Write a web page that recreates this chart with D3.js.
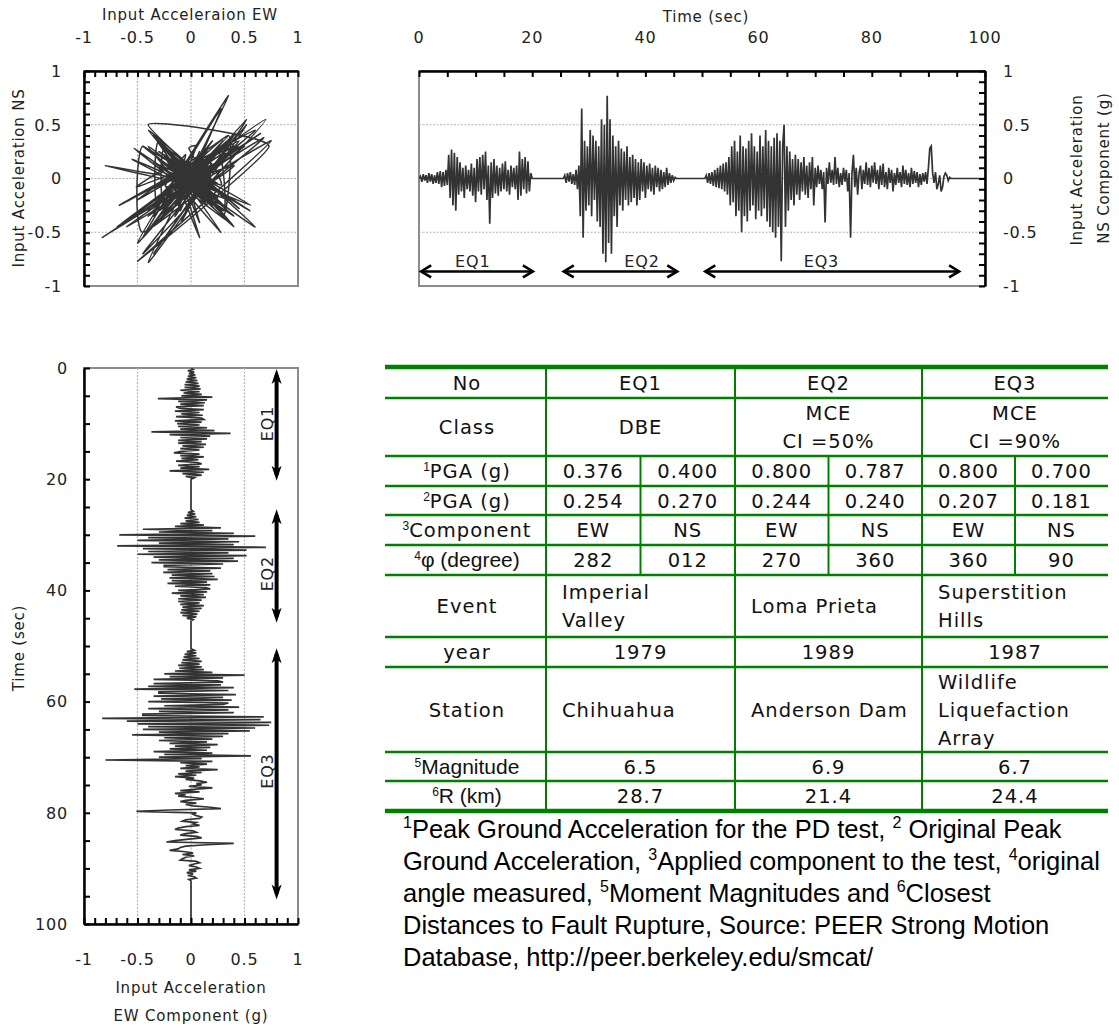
<!DOCTYPE html>
<html><head><meta charset="utf-8">
<script src="https://cdn.jsdelivr.net/npm/d3@7"></script>
<style>body{margin:0;background:#fff}svg{display:block}</style>
</head><body><svg id="c" width="1119" height="1029"></svg>
<script>
// ---------------- DATA ----------------
const STEP = 0.25;            // seconds between samples
const eqStarts = [0, 25.5, 50.5];
const eqNames = ["EQ1", "EQ2", "EQ3"];
const eqSpans = [[0.2, 20.3], [25.4, 45.8], [50.4, 95.6]];
const eqLabelTimeTop = [9.5, 39.4, 71.1];
const eqLabelTimeSide = [10, 37, 72.5];

const eq1NS = [0.00,0.02,-0.03,0.04,-0.02,0.03,-0.04,0.05,-0.03,0.04,-0.05,0.03,-0.04,
 0.06,-0.05,0.07,-0.08,0.06,-0.07,0.08,-0.06,
 0.22,-0.18,0.27,-0.25,0.24,-0.30,0.20,-0.15,
 0.15,-0.12,0.10,-0.18,0.12,-0.10,0.08,-0.12,
 0.14,-0.16,0.10,-0.22,0.18,-0.12,0.20,-0.15,
 0.22,-0.10,0.25,-0.20,0.12,-0.42,0.15,-0.18,
 0.18,-0.14,0.12,-0.16,0.10,-0.12,0.14,-0.10,
 0.16,-0.12,0.08,-0.15,0.12,-0.08,0.10,-0.10,
 0.12,-0.20,0.25,-0.16,0.18,-0.10,0.20,-0.14,
 0.16,-0.12,0.05,0.00];
const eq1EW = [0.00,0.02,-0.03,0.03,-0.02,0.04,-0.03,0.05,-0.04,0.06,-0.05,0.07,-0.06,
 0.08,-0.06,0.09,-0.10,0.08,-0.07,0.10,-0.09,
 0.20,-0.31,0.15,-0.12,0.13,-0.10,0.12,-0.14,
 -0.10,0.12,-0.15,0.08,-0.09,0.11,-0.14,0.10,
 0.12,-0.15,0.10,-0.13,0.08,-0.12,0.15,-0.10,
 0.22,-0.37,0.37,-0.20,0.18,-0.10,0.15,-0.12,
 0.10,-0.12,0.14,-0.08,0.12,-0.10,0.08,-0.09,
 -0.16,0.08,-0.10,0.12,-0.09,0.07,-0.14,0.06,
 0.10,-0.12,0.08,-0.10,0.17,-0.20,0.12,-0.08,
 0.10,-0.05,0.03,0.00];
const eq2NS = [0.00,0.03,-0.04,0.05,-0.03,0.06,-0.05,0.04,-0.06,
 0.08,-0.10,0.12,-0.35,0.65,-0.55,0.35,-0.30,
 0.30,-0.25,0.45,-0.35,0.40,-0.20,0.35,-0.40,
 0.30,-0.45,0.55,-0.70,0.50,-0.78,0.77,-0.60,
 0.55,-0.70,0.40,-0.35,0.30,-0.45,0.35,-0.25,
 0.28,-0.30,0.25,-0.20,0.30,-0.25,0.20,-0.22,
 0.22,-0.18,0.18,-0.25,0.15,-0.20,0.18,-0.12,
 0.15,-0.18,0.12,-0.10,0.14,-0.12,0.10,-0.15,
 0.12,-0.08,0.10,-0.12,0.08,-0.10,0.06,-0.08,
 0.10,-0.06,0.05,-0.04,0.03,-0.02,0.01,0.00];
const eq2EW = [0.00,0.02,-0.03,0.04,-0.04,0.05,-0.06,0.07,-0.05,
 0.08,-0.10,0.12,-0.15,0.28,-0.45,0.20,-0.30,
 0.40,-0.67,0.60,-0.40,0.35,-0.50,0.45,-0.30,
 0.40,-0.69,0.70,-0.45,0.52,-0.40,0.35,-0.50,
 0.52,-0.35,0.40,-0.30,0.44,-0.37,0.30,-0.25,
 -0.25,0.28,-0.22,0.18,-0.26,0.20,-0.18,0.22,
 -0.20,0.25,-0.18,0.15,-0.22,0.18,-0.15,0.14,
 0.18,-0.12,0.15,-0.18,0.12,-0.10,0.14,-0.12,
 0.10,-0.12,0.08,-0.10,0.12,-0.08,0.10,-0.09,
 0.08,-0.10,0.06,-0.08,0.05,-0.04,0.02,0.00];
const eq3NS = [0.00,0.03,-0.04,0.05,-0.05,0.06,-0.07,0.08,
 -0.08,0.10,-0.09,0.12,-0.10,0.14,-0.12,0.15,
 -0.15,0.20,-0.25,0.30,-0.22,0.35,-0.35,0.25,
 -0.30,0.40,-0.50,0.30,-0.35,0.28,-0.40,0.35,
 -0.30,0.42,-0.25,0.30,-0.38,0.25,-0.30,0.40,
 -0.35,0.30,-0.28,0.45,-0.40,0.35,-0.45,0.30,
 -0.50,0.38,-0.55,0.42,-0.45,0.35,-0.77,0.30,
 0.50,-0.45,0.30,-0.30,0.25,-0.20,0.18,-0.25,
 0.22,-0.15,0.18,-0.20,0.15,-0.12,0.20,-0.15,
 0.12,-0.18,0.15,-0.10,0.20,-0.25,0.10,-0.08,
 0.12,-0.05,0.08,-0.10,0.06,-0.41,0.10,-0.05,
 0.15,-0.04,0.08,-0.06,0.20,-0.05,0.10,-0.08,
 0.05,-0.06,0.10,-0.03,0.08,-0.12,0.05,-0.55,
 0.05,0.22,-0.08,0.10,-0.15,0.05,0.12,-0.10,
 0.08,-0.05,0.15,-0.06,0.10,-0.08,0.12,-0.04,
 0.15,-0.05,0.08,-0.10,0.12,-0.06,0.14,-0.08,
 0.06,-0.10,0.10,-0.04,0.08,-0.12,0.05,-0.06,
 0.10,-0.04,0.06,-0.08,0.12,-0.05,0.08,-0.06,
 0.05,-0.08,0.10,-0.05,0.07,-0.04,0.06,-0.08,
 0.04,-0.06,0.05,-0.03,0.06,-0.05,0.10,0.28,
 0.30,0.05,-0.04,0.06,-0.10,-0.05,0.03,-0.12,
 -0.08,0.02,0.05,0.03,-0.02,0.01,0.00,0.00];
const eq3EW = [0.00,0.03,-0.04,0.05,-0.06,0.05,-0.07,0.08,
 -0.08,0.10,-0.09,0.08,-0.12,0.10,-0.11,0.12,
 -0.15,0.20,-0.25,0.50,-0.20,0.30,-0.35,0.25,
 0.30,-0.35,0.28,-0.40,0.40,-0.53,0.35,-0.30,
 -0.30,0.42,-0.35,0.30,-0.28,0.38,-0.40,0.35,
 0.30,-0.25,0.45,-0.40,0.35,-0.30,0.40,-0.45,
 -0.45,0.68,-0.83,0.65,-0.60,0.75,-0.50,0.73,
 -0.40,0.60,-0.45,0.55,-0.30,0.35,-0.55,0.30,
 -0.25,0.20,-0.30,0.15,-0.20,0.25,-0.15,0.18,
 -0.20,0.15,-0.35,0.20,-0.25,0.56,-0.30,0.10,
 -0.80,0.20,-0.10,0.15,-0.05,0.08,-0.10,0.25,
 -0.05,0.10,-0.12,0.05,-0.15,0.03,-0.05,0.08,
 0.15,0.05,0.10,-0.02,0.20,0.05,-0.10,0.08,
 -0.15,-0.05,-0.12,0.02,0.12,-0.05,-0.10,0.05,
 -0.05,0.02,0.18,0.28,-0.20,-0.51,0.05,0.02,
 0.05,0.10,0.08,-0.05,-0.08,0.05,0.02,0.08,
 -0.05,-0.12,-0.15,0.02,0.05,-0.05,-0.10,0.05,
 0.10,-0.02,-0.15,-0.23,0.40,0.15,-0.05,-0.10,
 -0.12,-0.20,-0.05,0.02,-0.08,0.03,-0.05,-0.08,
 -0.10,0.05,0.08,0.02,-0.02,0.05,0.08,-0.02,
 0.05,-0.04,0.02,-0.03,0.03,0.05,-0.02,0.00,
 0.00,0.00,0.00,0.00,0.00,0.00,0.00,0.00];

const accTicks = [-1, -0.5, 0, 0.5, 1];
const timeTicks = [0, 20, 40, 60, 80, 100];

// table
const rowHeads = [
 {sup:"", text:"No", arial:false}, {sup:"", text:"Class", arial:false},
 {sup:"1", text:"PGA (g)", arial:false}, {sup:"2", text:"PGA (g)", arial:false},
 {sup:"3", text:"Component", arial:false}, {sup:"4", text:"\u03c6 (degree)", arial:true},
 {sup:"", text:"Event", arial:false}, {sup:"", text:"year", arial:false},
 {sup:"", text:"Station", arial:false}, {sup:"5", text:"Magnitude", arial:true},
 {sup:"6", text:"R (km)", arial:true}];
const tableEQ = ["EQ1", "EQ2", "EQ3"];
const tableClass = [["DBE"], ["MCE", "CI =50%"], ["MCE", "CI =90%"]];
const pgaTest = ["0.376", "0.400", "0.800", "0.787", "0.800", "0.700"];
const pgaOrig = ["0.254", "0.270", "0.244", "0.240", "0.207", "0.181"];
const components = ["EW", "NS", "EW", "NS", "EW", "NS"];
const angles = ["282", "012", "270", "360", "360", "90"];
const events = [["Imperial", "Valley"], ["Loma Prieta"], ["Superstition", "Hills"]];
const years = ["1979", "1989", "1987"];
const stations = [["Chihuahua"], ["Anderson Dam"], ["Wildlife", "Liquefaction", "Array"]];
const magnitudes = ["6.5", "6.9", "6.7"];
const distances = ["28.7", "21.4", "24.4"];

const footnote = [
 [["s","1"],["t","Peak Ground Acceleration for the PD test, "],["s","2"],["t"," Original Peak"]],
 [["t","Ground Acceleration, "],["s","3"],["t","Applied component to the test, "],["s","4"],["t","original"]],
 [["t","angle measured, "],["s","5"],["t","Moment Magnitudes and "],["s","6"],["t","Closest"]],
 [["t","Distances to Fault Rupture, Source: PEER Strong Motion"]],
 [["t","Database, http://peer.berkeley.edu/smcat/"]]
];

// ---------------- BUILD ----------------
const FONT = "'DejaVu Sans', Verdana, sans-serif";
const ARIAL = "'Liberation Sans', Arial, sans-serif";
const INK = "#333";
const svg = d3.select("#c");
svg.append("rect").attr("width", 1119).attr("height", 1029).attr("fill", "#fff");
const defs = svg.append("defs");

const nsSegs = [eq1NS, eq2NS, eq3NS], ewSegs = [eq1EW, eq2EW, eq3EW];
function timeSeries(segs) {
  const pts = [{t: 0, v: 0}];
  segs.forEach((arr, k) => arr.forEach((v, i) => pts.push({t: eqStarts[k] + i * STEP, v})));
  pts.push({t: 100, v: 0});
  return pts;
}
const nsSeries = timeSeries(nsSegs), ewSeries = timeSeries(ewSegs);
const orbit = [];
nsSegs.forEach((arr, k) => arr.forEach((v, i) => orbit.push({ew: ewSegs[k][i], ns: v})));

const minorAcc = d3.range(-10, 11).map(i => i / 10);
const minorTime = d3.range(0, 101, 5);

function clip(id, x0, y0, x1, y1) {
  defs.append("clipPath").attr("id", id).append("rect")
    .attr("x", x0).attr("y", y0).attr("width", x1 - x0).attr("height", y1 - y0);
}
function frame(x0, y0, x1, y1) {
  svg.append("rect").attr("x", x0).attr("y", y0).attr("width", x1 - x0).attr("height", y1 - y0)
    .attr("fill", "none").attr("stroke", "#8c8c8c").attr("stroke-width", 2);
}
function styleAxis(g) {
  g.select(".domain").attr("stroke", "#000").attr("stroke-width", 2.5);
  g.selectAll(".tick line").attr("stroke", "#000").attr("stroke-width", 2);
}
function gridLine(x1, y1, x2, y2) {
  svg.append("line").attr("x1", x1).attr("y1", y1).attr("x2", x2).attr("y2", y2)
    .attr("stroke", "#b4b4b4").attr("stroke-width", 1.2).attr("stroke-dasharray", "2,1.5");
}
function label(x, y, txt, anchor, size, rot) {
  const t = svg.append("text").attr("font-family", FONT).attr("font-size", size)
    .attr("letter-spacing", 0.8).attr("fill", "#222").attr("text-anchor", anchor)
    .attr("dy", "0.36em").text(txt);
  if (rot) t.attr("transform", `translate(${x},${y}) rotate(${rot})`);
  else t.attr("x", x).attr("y", y);
  return t;
}

// ===== Top-left orbit =====
const xS = d3.scaleLinear([-1, 1], [84, 298]);
const yS = d3.scaleLinear([-1, 1], [286, 71]);
frame(84, 71, 298, 286);
[-0.5, 0, 0.5].forEach(v => {
  gridLine(xS(v), yS(-1), xS(v), yS(1));
  gridLine(xS(-1), yS(v), xS(1), yS(v));
});
clip("cpS", 84, 71, 298, 286);
svg.append("path").datum(orbit).attr("clip-path", "url(#cpS)")
  .attr("fill", "none").attr("stroke", INK).attr("stroke-width", 1.5).attr("stroke-linejoin", "round")
  .attr("d", d3.line().x(d => xS(d.ew)).y(d => yS(d.ns)).curve(d3.curveCardinal.tension(0.55)));
svg.append("g").attr("transform", `translate(0,${yS(1)})`)
  .call(d3.axisTop(xS).tickValues(minorAcc).tickSize(-6).tickSizeOuter(0).tickFormat("")).call(styleAxis);
svg.append("g").attr("transform", `translate(${xS(-1)},0)`)
  .call(d3.axisLeft(yS).tickValues(minorAcc).tickSize(-6).tickSizeOuter(0).tickFormat("")).call(styleAxis);
accTicks.forEach(v => label(xS(v), 37, String(v), "middle", 16));
accTicks.forEach(v => label(62, yS(v), String(v), "end", 16));
label(190, 15, "Input Acceleraion EW", "middle", 15);
label(19, 178, "Input Acceleration NS", "middle", 15, -90);

// ===== Top-right NS time history =====
const xT = d3.scaleLinear([0, 100], [419, 985]);
const yT = d3.scaleLinear([-1, 1], [286, 71]);
frame(419, 71, 985, 286);
[-0.5, 0, 0.5].forEach(v => gridLine(xT(0), yT(v), xT(100), yT(v)));
clip("cpT", 419, 71, 985, 286);
svg.append("path").datum(nsSeries).attr("clip-path", "url(#cpT)")
  .attr("fill", "none").attr("stroke", INK).attr("stroke-width", 1.7)
  .attr("d", d3.line().x(d => xT(d.t)).y(d => yT(d.v)));
svg.append("g").attr("transform", `translate(0,${yT(1)})`)
  .call(d3.axisTop(xT).tickValues(minorTime).tickSize(-6).tickSizeOuter(0).tickFormat("")).call(styleAxis);
svg.append("g").attr("transform", `translate(${xT(100)},0)`)
  .call(d3.axisRight(yT).tickValues(minorAcc).tickSize(-6).tickSizeOuter(0).tickFormat("")).call(styleAxis);
timeTicks.forEach(v => label(xT(v), 37, String(v), "middle", 16));
accTicks.forEach(v => label(1003, yT(v), String(v), "start", 16));
label(xT(50.7), 17, "Time (sec)", "middle", 15);
label(1077, 170, "Input Acceleration", "middle", 15, -90);
label(1104, 168, "NS Component (g)", "middle", 15, -90);

function hArrow(x1, x2, y) {
  const g = svg.append("g").attr("stroke", "#000").attr("fill", "none").attr("stroke-width", 2.6);
  g.append("line").attr("x1", x1 + 1).attr("x2", x2 - 1).attr("y1", y).attr("y2", y);
  g.append("path").attr("d", `M${x1 + 11},${y - 6}L${x1 + 1},${y}L${x1 + 11},${y + 6}`);
  g.append("path").attr("d", `M${x2 - 11},${y - 6}L${x2 - 1},${y}L${x2 - 11},${y + 6}`);
}
eqSpans.forEach((s, i) => {
  hArrow(xT(s[0]), xT(s[1]), yT(-0.865));
  label(xT(eqLabelTimeTop[i]), yT(-0.77), eqNames[i], "middle", 16);
});

// ===== Bottom-left EW time history =====
const xB = d3.scaleLinear([-1, 1], [84, 298]);
const yB = d3.scaleLinear([0, 100], [368, 924]);
frame(84, 368, 298, 924);
[-0.5, 0, 0.5].forEach(v => gridLine(xB(v), yB(0), xB(v), yB(100)));
clip("cpB", 84, 368, 298, 924);
svg.append("path").datum(ewSeries).attr("clip-path", "url(#cpB)")
  .attr("fill", "none").attr("stroke", INK).attr("stroke-width", 1.7)
  .attr("d", d3.line().x(d => xB(d.v)).y(d => yB(d.t)));
svg.append("g").attr("transform", `translate(${xB(-1)},0)`)
  .call(d3.axisLeft(yB).tickValues(minorTime).tickSize(-6).tickSizeOuter(0).tickFormat("")).call(styleAxis);
svg.append("g").attr("transform", `translate(0,${yB(100)})`)
  .call(d3.axisBottom(xB).tickValues(minorAcc).tickSize(-6).tickSizeOuter(0).tickFormat("")).call(styleAxis);
timeTicks.forEach(v => label(68, yB(v), String(v), "end", 16));
accTicks.forEach(v => label(xB(v), 959, String(v), "middle", 16));
label(19, 648, "Time (sec)", "middle", 15, -90);
label(191, 988, "Input Acceleration", "middle", 15);
label(191, 1016, "EW Component (g)", "middle", 15);

function vArrow(x, y1, y2) {
  const g = svg.append("g");
  g.append("line").attr("x1", x).attr("x2", x).attr("y1", y1 + 6).attr("y2", y2 - 6)
    .attr("stroke", "#000").attr("stroke-width", 4);
  g.append("path").attr("fill", "#000")
    .attr("d", `M${x},${y1}L${x + 5},${y1 + 15}L${x},${y1 + 11}L${x - 5},${y1 + 15}Z`);
  g.append("path").attr("fill", "#000")
    .attr("d", `M${x},${y2}L${x + 5},${y2 - 15}L${x},${y2 - 11}L${x - 5},${y2 - 15}Z`);
}
eqSpans.forEach((s, i) => {
  vArrow(xB(0.8), yB(s[0]), yB(s[1]));
  label(xB(0.71), yB(eqLabelTimeSide[i]), eqNames[i], "middle", 16, -90);
});

// ===== Table =====
const GREEN = "#008000";
const colX = [388, 546, 735, 922, 1108];
const rowY = [367, 398, 456, 486, 515, 545, 575, 637, 667, 752, 781, 811];
const tb = svg.append("g");
rowY.forEach((y, i) => {
  const thick = (i === 0 || i === rowY.length - 1);
  tb.append("line").attr("x1", 385).attr("x2", 1108).attr("y1", y).attr("y2", y)
    .attr("stroke", GREEN).attr("stroke-width", thick ? 4.5 : 2.5);
});
[1, 2, 3].forEach(c => tb.append("line").attr("x1", colX[c]).attr("x2", colX[c])
  .attr("y1", rowY[0]).attr("y2", rowY[11]).attr("stroke", GREEN).attr("stroke-width", 2));
const subX = [0, 1, 2].map(c => (colX[c + 1] + colX[c + 2]) / 2);
subX.forEach(x => tb.append("line").attr("x1", x).attr("x2", x)
  .attr("y1", rowY[2]).attr("y2", rowY[6]).attr("stroke", GREEN).attr("stroke-width", 2));

function cellText(x, yc, lines, anchor, lh) {
  const n = lines.length;
  lines.forEach((s, i) => {
    tb.append("text").attr("x", x).attr("y", yc + (i - (n - 1) / 2) * lh + 7)
      .attr("text-anchor", anchor)
      .attr("font-family", FONT).attr("font-size", 19.5).attr("letter-spacing", 1)
      .attr("fill", "#111").text(s);
  });
}
const rowC = i => (rowY[i] + rowY[i + 1]) / 2;
const headX = (colX[0] + colX[1]) / 2;
rowHeads.forEach((h, i) => {
  const t = tb.append("text").attr("x", headX).attr("y", rowC(i) + 7)
    .attr("text-anchor", "middle").attr("fill", "#111");
  if (h.sup) t.append("tspan").attr("font-family", ARIAL).attr("font-size", 12).attr("dy", -7).text(h.sup);
  t.append("tspan").attr("font-family", h.arial ? ARIAL : FONT)
    .attr("font-size", h.arial ? 21 : 19.5).attr("letter-spacing", h.arial ? 0 : 1)
    .attr("dy", h.sup ? 7 : 0).text(h.text);
});
const mainC = c => (colX[c + 1] + colX[c + 2]) / 2;
const subC = j => { const c = Math.floor(j / 2); return j % 2 === 0 ? (colX[c + 1] + subX[c]) / 2 : (subX[c] + colX[c + 2]) / 2; };
tableEQ.forEach((s, c) => cellText(mainC(c), rowC(0), [s], "middle", 28));
tableClass.forEach((s, c) => cellText(mainC(c), rowC(1), s, "middle", 28));
pgaTest.forEach((s, j) => cellText(subC(j), rowC(2), [s], "middle", 28));
pgaOrig.forEach((s, j) => cellText(subC(j), rowC(3), [s], "middle", 28));
components.forEach((s, j) => cellText(subC(j), rowC(4), [s], "middle", 28));
angles.forEach((s, j) => cellText(subC(j), rowC(5), [s], "middle", 28));
events.forEach((s, c) => cellText(colX[c + 1] + 16, rowC(6), s, "start", 28));
years.forEach((s, c) => cellText(mainC(c), rowC(7), [s], "middle", 28));
stations.forEach((s, c) => cellText(colX[c + 1] + 16, rowC(8), s, "start", 28));
magnitudes.forEach((s, c) => cellText(mainC(c), rowC(9), [s], "middle", 28));
distances.forEach((s, c) => cellText(mainC(c), rowC(10), [s], "middle", 28));

// ===== Footnote =====
footnote.forEach((line, i) => {
  const t = svg.append("text").attr("x", 403).attr("y", 838 + i * 32)
    .attr("font-family", ARIAL).attr("font-size", 25.5).attr("fill", "#000");
  let raised = false;
  line.forEach(([kind, s]) => {
    const sp = t.append("tspan").text(s);
    if (kind === "s") { sp.attr("font-size", 16).attr("dy", raised ? 0 : -10); raised = true; }
    else { sp.attr("dy", raised ? 10 : 0); raised = false; }
  });
});
</script></body></html>
